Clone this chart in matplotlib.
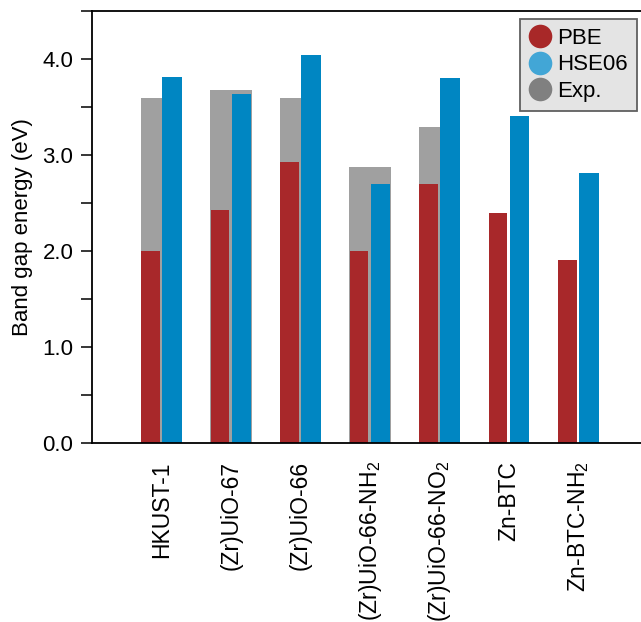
import numpy as np
import matplotlib
matplotlib.use("Agg")
import matplotlib.pyplot as plt
from matplotlib.lines import Line2D
from matplotlib.ticker import MultipleLocator

plt.rcParams['font.family'] = ['Liberation Sans', 'DejaVu Sans']
plt.rcParams['mathtext.fontset'] = 'custom'
plt.rcParams['mathtext.rm'] = 'Liberation Sans'
plt.rcParams['mathtext.it'] = 'Liberation Sans:italic'

categories = ['HKUST-1', '(Zr)UiO-67', '(Zr)UiO-66', r'(Zr)UiO-66-NH$_2$',
              r'(Zr)UiO-66-NO$_2$', 'Zn-BTC', r'Zn-BTC-NH$_2$']
pbe = [2.00, 2.43, 2.93, 2.00, 2.70, 2.40, 1.91]
hse06 = [3.81, 3.64, 4.04, 2.70, 3.80, 3.41, 2.81]
exp = [3.59, 3.68, 3.59, 2.87, 3.29, None, None]

c_red = '#a8282a'
c_blue = '#0086c2'
c_gray = '#a0a0a0'

fig = plt.figure(figsize=(6.41, 6.22), dpi=100)
ax = fig.add_axes([92/641, (622-443)/622, 556/641, (443-11)/622])

x = np.arange(1, len(categories) + 1)
ex_x = [xi for xi, e in zip(x, exp) if e is not None]
ex_v = [e for e in exp if e is not None]
ax.bar(ex_x, ex_v, width=0.59, color=c_gray, zorder=1)
ax.bar(x - 0.158, pbe, width=0.272, color=c_red, zorder=2)
ax.bar(x + 0.152, hse06, width=0.285, color=c_blue, zorder=2)

ax.set_xlim(0, 8)
ax.set_ylim(0, 4.5)
ax.set_xticks(x)
ax.set_xticklabels(categories, rotation=90, fontsize=16.5, va='top', ha='center')
ax.tick_params(axis='x', length=0, pad=13)
ax.yaxis.set_major_locator(MultipleLocator(1.0))
ax.yaxis.set_minor_locator(MultipleLocator(0.5))
ax.set_yticks([0, 1, 2, 3, 4])
ax.set_yticklabels(['0.0', '1.0', '2.0', '3.0', '4.0'], fontsize=16)
ax.tick_params(axis='y', which='both', direction='out', length=8, width=1.1, pad=5.5)
ax.set_ylabel('Band gap energy (eV)', fontsize=16, labelpad=7)
for s in ['left', 'bottom', 'top', 'right']:
    ax.spines[s].set_linewidth(1.3)

handles = [Line2D([], [], marker='o', ls='none', markersize=17, color='#a82828', mec='none'),
           Line2D([], [], marker='o', ls='none', markersize=17, color='#42a6d6', mec='none'),
           Line2D([], [], marker='o', ls='none', markersize=17, color='#808080', mec='none')]
leg = fig.legend(handles, ['PBE', 'HSE06', 'Exp.'], loc='upper right',
                 bbox_to_anchor=(637/641, 1 - 19/622), bbox_transform=fig.transFigure,
                 fontsize=16, frameon=True, fancybox=False, borderaxespad=0,
                 handlelength=1.0, handletextpad=0.3, labelspacing=0.25,
                 borderpad=0.4, framealpha=1)
leg.get_frame().set_facecolor('#e4e4e4')
leg.get_frame().set_edgecolor('#606060')
leg.get_frame().set_linewidth(1.3)

fig.savefig('out.png', dpi=100)
